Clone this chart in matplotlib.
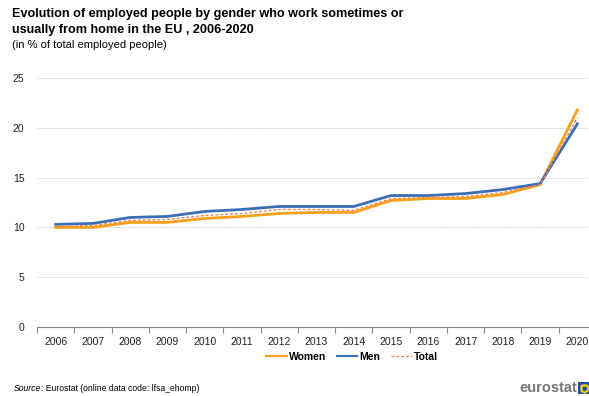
import matplotlib
matplotlib.use("Agg")
import matplotlib.pyplot as plt
from matplotlib.lines import Line2D
from matplotlib.patches import Rectangle
import numpy as np

plt.rcParams['font.family'] = ['Liberation Sans', 'DejaVu Sans']

years = ["2006", "2007", "2008", "2009", "2010", "2011", "2012", "2013",
         "2014", "2015", "2016", "2017", "2018", "2019", "2020"]
women = [10.0, 10.0, 10.5, 10.5, 10.9, 11.1, 11.4, 11.5, 11.5, 12.7, 12.9, 12.9, 13.3, 14.3, 21.8]
men = [10.3, 10.4, 11.0, 11.1, 11.6, 11.8, 12.1, 12.1, 12.1, 13.2, 13.2, 13.4, 13.8, 14.4, 20.4]
total = [10.1, 10.2, 10.7, 10.8, 11.2, 11.4, 11.8, 11.8, 11.7, 12.9, 13.0, 13.1, 13.5, 14.3, 21.0]

c_women = "#F7A11A"
c_men = "#3A6EB5"
c_total = "#F0855A"

W, H = 589, 396
fig = plt.figure(figsize=(W / 100, H / 100), dpi=100)
ax = fig.add_axes([37 / W, 1 - 327 / H, 559 / W, 249 / H])

x = np.arange(len(years))
ax.plot(x, women, color=c_women, lw=2.0, solid_joinstyle='round', label="Women", zorder=3)
ax.plot(x, men, color=c_men, lw=2.0, solid_joinstyle='round', label="Men", zorder=3)
ax.plot(x, total, color=c_total, lw=1.0, ls=(0, (2, 1.5)), label="Total", zorder=4)

ax.set_xlim(-0.5, len(years) - 0.5)
ax.set_ylim(0, 25)
ax.set_yticks(range(0, 26, 5))
ax.set_xticks(x)
ax.set_xticklabels(years)
ax.set_xticks(np.arange(-0.5, len(years), 1.0), minor=True)
ax.tick_params(axis='x', which='major', length=0, pad=7, labelsize=7.5, colors="#222222")
ax.tick_params(axis='x', which='minor', length=4, color="#888888", width=0.8)
ax.tick_params(axis='y', length=0, pad=9, labelsize=7.5, colors="#222222")
ax.grid(axis='y', color="#D9D9D9", lw=0.7, ls=(0, (2, 1)))
ax.set_axisbelow(True)
for s in ['left', 'right', 'top']:
    ax.spines[s].set_visible(False)
ax.spines['bottom'].set_color("#888888")
ax.spines['bottom'].set_linewidth(0.8)

handles = [Line2D([], [], color=c_women, lw=1.5),
           Line2D([], [], color=c_men, lw=1.5),
           Line2D([], [], color=c_total, lw=1.0, ls=(0, (2, 1.5)))]
fig.legend(handles, ["Women", "Men", "Total"], loc='center', bbox_to_anchor=(352 / W, 1 - 357 / H),
           ncol=3, frameon=False, handlelength=2.0, handletextpad=0.2, columnspacing=1.0,
           borderpad=0.2, prop={'size': 7.5, 'weight': 'bold'})

fig.text(12 / W, 1 - 14 / H, "Evolution of employed people by gender who work sometimes or",
         fontsize=9.1, fontweight='bold', va='center', ha='left')
fig.text(12 / W, 1 - 30 / H, "usually from home in the EU , 2006-2020",
         fontsize=9.1, fontweight='bold', va='center', ha='left')
fig.text(12 / W, 1 - 45 / H, "(in % of total employed people)", fontsize=8, va='center', ha='left')

src = fig.text(14 / W, 1 - 391 / H, "Source", fontsize=6.2, style='italic', va='baseline', ha='left')
fig.add_artist(matplotlib.text.Annotation(": Eurostat (online data code: lfsa_ehomp)",
                                          xy=(1, 0), xycoords=src, va='bottom', ha='left',
                                          fontsize=6.2))

fig.text(577 / W, 1 - 388 / H, "eurostat", fontsize=10.5, fontweight='bold', color="#777777",
         va='center', ha='right')
fig.patches.append(Rectangle((578 / W, 1 - 394 / H), 12 / W, 12 / H, transform=fig.transFigure,
                             facecolor="#1F4EA8", edgecolor='none'))
ang = np.linspace(0, 2 * np.pi, 12, endpoint=False)
fig.add_artist(Line2D((584 + 3.5 * np.cos(ang)) / W, 1 - (388 + 3.5 * np.sin(ang)) / H,
                      ls='none', marker='o', ms=0.8, color="#FFD617", transform=fig.transFigure))

fig.savefig("out.png", dpi=100)
